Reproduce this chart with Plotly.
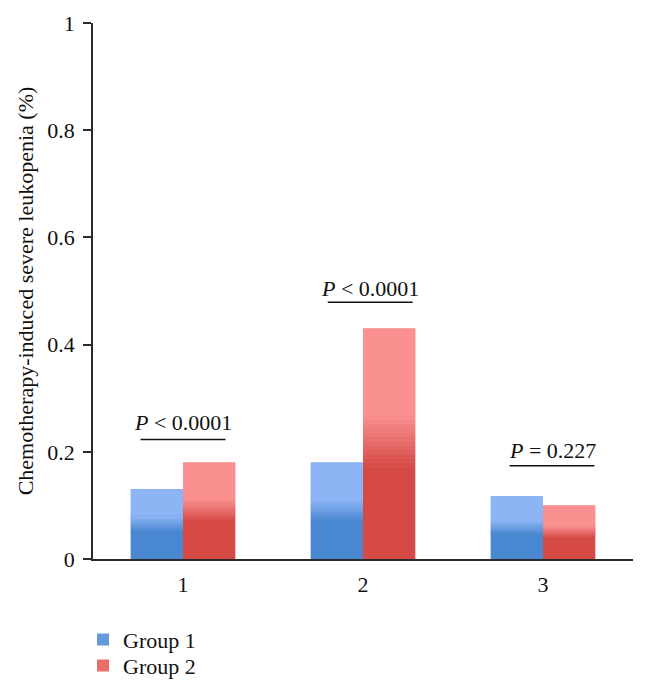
import plotly.graph_objects as go

categories = ["1", "2", "3"]
group1 = [0.13, 0.18, 0.117]
group2 = [0.18, 0.43, 0.10]
series_names = ["Group 1", "Group 2"]
p_labels = ["<i>P</i> < 0.0001", "<i>P</i> < 0.0001", "<i>P</i> = 0.227"]
p_label_y = [0.255, 0.505, 0.202]
p_line_y = [0.223, 0.479, 0.174]
p_center_x = [0.0, 1.04, 2.05]
y_ticks = [0, 0.2, 0.4, 0.6, 0.8, 1]
y_ticktext = ["0", "0.2", "0.4", "0.6", "0.8", "1"]

FONT = "Liberation Serif"
FS = 22
AXIS_COLOR = "#2b2b2b"
TEXT_COLOR = "#111111"
colors = {
    "Group 1": {"light": (141, 181, 245), "dark": (74, 135, 209), "mid": (100, 153, 222)},
    "Group 2": {"light": (250, 144, 144), "dark": (214, 74, 70), "mid": (232, 110, 108)},
}
offsets = [-0.29, 0.0]
bar_width = 0.29
legend_ids = ["legend", "legend2"]
legend_y = [-0.1505, -0.199]


def rgb(c):
    return "rgb(%d,%d,%d)" % tuple(int(round(v)) for v in c)


def mix(a, b, t):
    return tuple(a[i] + (b[i] - a[i]) * t for i in range(3))


fig = go.Figure()

for name, vals, off, lid in zip(series_names, [group1, group2], offsets, legend_ids):
    c = colors[name]
    fig.add_trace(go.Bar(
        x=categories, y=vals, name=name, offset=off, width=bar_width,
        marker=dict(color=rgb(c["mid"]), line=dict(width=0)), opacity=1,
        legendgroup=name, legend=lid,
    ))
    lo_t, hi_t = 0.40, 0.62
    steps = 12
    edges = [0.0, lo_t] + [lo_t + (hi_t - lo_t) * (k + 1) / steps for k in range(steps)] + [1.0]
    for k in range(len(edges) - 1):
        a, b = edges[k], edges[k + 1]
        midf = (a + b) / 2
        if midf <= lo_t:
            col = c["dark"]
        elif midf >= hi_t:
            col = c["light"]
        else:
            col = mix(c["dark"], c["light"], (midf - lo_t) / (hi_t - lo_t))
        fig.add_trace(go.Bar(
            x=categories, y=[v * (b - a) for v in vals], base=[v * a for v in vals],
            offset=off, width=bar_width, showlegend=False, hoverinfo="skip",
            marker=dict(color=rgb(col), line=dict(width=0)), opacity=1,
            legendgroup=name, legend=lid,
        ))

for txt, ty, ly, cx in zip(p_labels, p_label_y, p_line_y, p_center_x):
    fig.add_annotation(x=cx, y=ty, xref="x", yref="y", text=txt, showarrow=False,
                       font=dict(family=FONT, size=FS, color=TEXT_COLOR))
    fig.add_shape(type="line", xref="x", yref="y", x0=cx - 0.236, x1=cx + 0.236,
                  y0=ly, y1=ly, line=dict(color=TEXT_COLOR, width=1.6))

legend_style = dict(x=-0.0185, xanchor="left", yanchor="middle",
                    font=dict(family=FONT, size=FS, color=TEXT_COLOR),
                    bgcolor="rgba(0,0,0,0)")

fig.update_layout(
    width=647, height=693,
    margin=dict(l=85, r=22, t=15, b=142),
    paper_bgcolor="white", plot_bgcolor="white",
    barmode="overlay",
    font=dict(family=FONT, size=FS, color=TEXT_COLOR),
    showlegend=True,
    legend=dict(y=legend_y[0], **legend_style),
    legend2=dict(y=legend_y[1], **legend_style),
)
fig.update_xaxes(
    range=[-0.5, 2.5], showline=True, linecolor=AXIS_COLOR, linewidth=1.6,
    ticks="", showgrid=False, zeroline=False, ticklabelstandoff=5,
    tickfont=dict(family=FONT, size=FS, color=TEXT_COLOR), automargin=False,
)
fig.update_yaxes(
    range=[0, 1], tickvals=y_ticks, ticktext=y_ticktext,
    showline=True, linecolor=AXIS_COLOR, linewidth=1.6,
    ticks="outside", ticklen=8, tickwidth=1.6, tickcolor=AXIS_COLOR,
    showgrid=False, zeroline=False, ticklabelstandoff=4, automargin=False,
    tickfont=dict(family=FONT, size=FS, color=TEXT_COLOR),
    title=dict(text="Chemotherapy-induced severe leukopenia (%)",
               font=dict(family=FONT, size=FS, color=TEXT_COLOR), standoff=8),
)

fig.write_html("out.html")
